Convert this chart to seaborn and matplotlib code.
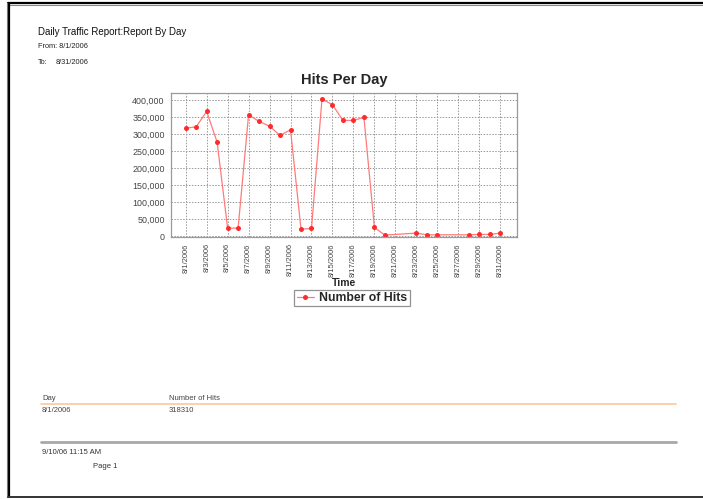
import matplotlib
matplotlib.use("Agg")
import matplotlib.pyplot as plt
from matplotlib.lines import Line2D
from matplotlib.ticker import FuncFormatter, MultipleLocator
import pandas as pd
import seaborn as sns

# Daily hit counts for August 2006 (days without a record are absent)
days = ["2006-08-01", "2006-08-02", "2006-08-03", "2006-08-04", "2006-08-05",
        "2006-08-06", "2006-08-07", "2006-08-08", "2006-08-09", "2006-08-10",
        "2006-08-11", "2006-08-12", "2006-08-13", "2006-08-14", "2006-08-15",
        "2006-08-16", "2006-08-17", "2006-08-18", "2006-08-19", "2006-08-20",
        "2006-08-23", "2006-08-24", "2006-08-25", "2006-08-28", "2006-08-29",
        "2006-08-30", "2006-08-31"]
hits = [318310, 322000, 367500, 277000, 24500,
        24500, 357500, 338000, 324000, 297000,
        313500, 21500, 23500, 404000, 387000,
        341000, 341000, 350000, 26500, 4000,
        10000, 5000, 5000, 5000, 6000,
        6000, 10000]
tick_days = ["2006-08-01", "2006-08-03", "2006-08-05", "2006-08-07", "2006-08-09",
             "2006-08-11", "2006-08-13", "2006-08-15", "2006-08-17", "2006-08-19",
             "2006-08-21", "2006-08-23", "2006-08-25", "2006-08-27", "2006-08-29",
             "2006-08-31"]
series_name = "Number of Hits"

sns.set_style("white")
plt.rcParams["font.family"] = ["Liberation Sans", "DejaVu Sans"]

W, H = 703, 499
fig = plt.figure(figsize=(W / 100, H / 100), dpi=100)


def fx(px):
    return px / W


def fy(py):
    return 1 - py / H


df = pd.DataFrame({"Day": pd.to_datetime(days), "Hits": hits, "Series": series_name})

ax = fig.add_axes([fx(171), fy(237), fx(517) - fx(171), fy(93) - fy(237)])
sns.lineplot(data=df, x="Day", y="Hits", hue="Series", palette=["#ff3a3a"],
             marker="o", markersize=3.6, markeredgewidth=0, linewidth=0.9,
             ax=ax)
for ln in ax.lines:
    ln.set_color("#ff7a7a")
    ln.set_markerfacecolor("#ff2a2a")
    ln.set_markeredgecolor("#ff2a2a")

start = pd.Timestamp("2006-08-01")
end = pd.Timestamp("2006-08-31")
ax.set_xlim(start - pd.Timedelta(days=1.4), end + pd.Timedelta(days=1.6))
ax.set_ylim(-1500, 421500)

ticks = pd.to_datetime(tick_days)
ax.set_xticks(ticks)
ax.set_xticklabels([f"{d.month}/{d.day}/{d.year}" for d in ticks],
                   rotation=90, fontsize=5.4, color="#444444")
ax.yaxis.set_major_locator(MultipleLocator(50000))
ax.yaxis.set_major_formatter(FuncFormatter(lambda v, p: f"{int(v):,}"))
ax.tick_params(axis="y", labelsize=6.4, labelcolor="#444444", length=2.5,
               color="#888888", pad=2)
ax.tick_params(axis="x", length=2.5, color="#888888", pad=2)

ax.grid(True, color="#9a9a9a", linestyle=(0, (1.5, 1.5)), linewidth=0.7)
for sp in ax.spines.values():
    sp.set_color("#9a9a9a")
    sp.set_linewidth(0.9)

ax.set_xlabel("")
ax.set_ylabel("")
fig.text(fx(344), fy(283), "Time", fontsize=7.5, fontweight="bold",
         ha="center", va="center")
fig.text(fx(344), fy(80), "Hits Per Day", fontsize=10.5, fontweight="bold",
         ha="center", va="center")

handles, labels = ax.get_legend_handles_labels()
ax.legend(handles, labels, loc="center", bbox_to_anchor=(fx(352), fy(298)),
          bbox_transform=fig.transFigure, frameon=True, fancybox=False,
          edgecolor="#777777", prop={"weight": "bold", "size": 8.8},
          handlelength=1.4, handletextpad=0.4, borderpad=0.2,
          borderaxespad=0)
ax.get_legend().get_frame().set_linewidth(0.9)

# Report header
fig.text(fx(38), fy(32), "Daily Traffic Report:Report By Day", fontsize=7.0,
         va="center", color="#111111")
fig.text(fx(38), fy(47), "From: 8/1/2006", fontsize=5.3, va="center",
         color="#222222")
fig.text(fx(38), fy(62), "To:", fontsize=5.3, va="center", color="#222222")
fig.text(fx(56), fy(62), "8/31/2006", fontsize=5.3, va="center",
         color="#222222")

# Detail table and footer
fig.text(fx(42), fy(398), "Day", fontsize=5.5, va="center", color="#444444")
fig.text(fx(169), fy(398), "Number of Hits", fontsize=5.5, va="center",
         color="#444444")
fig.add_artist(Line2D([fx(41), fx(676)], [fy(404), fy(404)],
                      color="#f8c89a", linewidth=1.2))
fig.text(fx(42), fy(410), "8/1/2006", fontsize=5.5, va="center",
         color="#444444")
fig.text(fx(169), fy(410), "318310", fontsize=5.5, va="center",
         color="#444444")
fig.add_artist(Line2D([fx(41), fx(676)], [fy(441.5), fy(441.5)],
                      color="#a8a8a8", linewidth=2.0))
fig.text(fx(42), fy(452), "9/10/06 11:15 AM", fontsize=5.5, va="center",
         color="#333333")
fig.text(fx(93), fy(466), "Page 1", fontsize=5.5, va="center",
         color="#333333")

# Page frame
fig.add_artist(Line2D([fx(8), fx(703)], [fy(3), fy(3)], color="#000000",
                      linewidth=1.6))
fig.add_artist(Line2D([fx(9), fx(703)], [fy(5), fy(5)], color="#8a8a8a",
                      linewidth=0.8))
fig.add_artist(Line2D([fx(8.5), fx(8.5)], [fy(3), fy(497)], color="#000000",
                      linewidth=1.6))
fig.add_artist(Line2D([fx(6.5), fx(6.5)], [fy(3), fy(497)], color="#777777",
                      linewidth=0.8))
fig.add_artist(Line2D([fx(8), fx(703)], [fy(496.5), fy(496.5)],
                      color="#333333", linewidth=1.4))

fig.savefig("out.png", dpi=100)
